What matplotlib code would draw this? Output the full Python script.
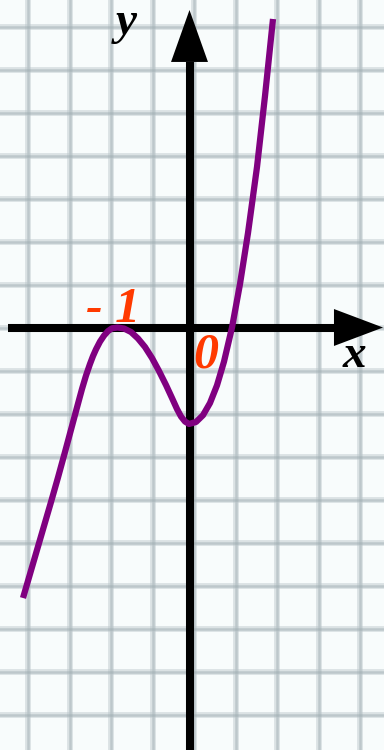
import numpy as np
import matplotlib
matplotlib.use("Agg")
import matplotlib.pyplot as plt

# Curve points (x unit = distance from origin to -1)
curve_x = [-2.3125, -2.1181, -1.9236, -1.8264, -1.7292, -1.6319, -1.5347, -1.4931,
           -1.4375, -1.3819, -1.3403, -1.2986, -1.2431, -1.1875, -1.1319, -1.0764,
           -1.0000,
           -0.9097, -0.8125, -0.7153, -0.6181, -0.5208, -0.4236, -0.3264, -0.2431,
           -0.1736, -0.1181, -0.0625, -0.0069,
           0.0903, 0.1875, 0.2847, 0.3819, 0.4792, 0.5903, 0.7014, 0.8125, 0.9375,
           1.0486, 1.1597]
curve_y = [-3.757, -3.090, -2.424, -2.083, -1.729, -1.368, -1.007, -0.854,
           -0.668, -0.506, -0.397, -0.303, -0.196, -0.113, -0.050, -0.011,
           0.000,
           -0.014, -0.0625, -0.153, -0.271, -0.424, -0.604, -0.799, -0.979,
           -1.132, -1.236, -1.306, -1.340,
           -1.3125, -1.218, -1.049, -0.803, -0.474, 0.000, 0.604, 1.3125, 2.229,
           3.215, 4.285]

tick_labels = ["- 1", "0"]
axis_names = ["x", "y"]

PX = 72.0  # pixels per unit
def px2x(p):
    return (p - 189.5) / PX
def py2y(p):
    return (327.5 - p) / PX

fig = plt.figure(figsize=(3.84, 7.5), dpi=100)
fig.patch.set_facecolor("#f8fcfc")
ax = fig.add_axes([0, 0, 1, 1])
ax.set_facecolor("#f8fcfc")
ax.set_xlim(px2x(0), px2x(384))
ax.set_ylim(py2y(750), py2y(0))
ax.axis("off")

# grid paper
gx = px2x(28 + 41.5 * np.arange(9))
gy = py2y(27 + 43 * np.arange(17))
for v in gx:
    ax.axvline(v, color="#b8c4c8", lw=4.2, alpha=0.45, zorder=1)
    ax.axvline(v, color="#9aa8ad", lw=1.8, alpha=0.45, zorder=1)
for h in gy:
    ax.axhline(h, color="#b8c4c8", lw=4.2, alpha=0.45, zorder=1)
    ax.axhline(h, color="#9aa8ad", lw=1.8, alpha=0.45, zorder=1)

# axes stems
lw_axis = 5.8
ax.plot([0, 0], [py2y(760), py2y(62)], color="black", lw=lw_axis,
        solid_capstyle="butt", zorder=3)
ax.plot([px2x(8), px2x(335)], [0, 0], color="black", lw=lw_axis,
        solid_capstyle="butt", zorder=3)
# arrow heads
ax.annotate("", xy=(0, py2y(10)), xytext=(0, py2y(100)),
            arrowprops=dict(arrowstyle="-|>,head_length=37.4,head_width=13.3",
                            mutation_scale=1, lw=0, color="black",
                            shrinkA=0, shrinkB=0), zorder=3)
ax.annotate("", xy=(px2x(383), 0), xytext=(px2x(300), 0),
            arrowprops=dict(arrowstyle="-|>,head_length=35.3,head_width=13.3",
                            mutation_scale=1, lw=0, color="black",
                            shrinkA=0, shrinkB=0), zorder=3)

# curve
ax.plot(curve_x, curve_y, color="#800080", lw=4.5, solid_joinstyle="round",
        solid_capstyle="butt", zorder=4)

font = dict(family="Liberation Serif", weight="bold", style="italic")
ax.text(px2x(126), py2y(34), axis_names[1], fontsize=34, ha="center",
        va="baseline", color="black", zorder=5, **font)
ax.text(px2x(354), py2y(367), axis_names[0], fontsize=34, ha="center",
        va="baseline", color="black", zorder=5, **font)
ax.text(px2x(113), py2y(322), tick_labels[0], fontsize=36, ha="center",
        va="baseline", color="#ff3a00", zorder=5, **font)
ax.text(px2x(205.5), py2y(367), tick_labels[1], fontsize=36, ha="center",
        va="baseline", color="#ff3a00", zorder=5, **font)

fig.savefig("out.png", dpi=100, facecolor=fig.get_facecolor())
